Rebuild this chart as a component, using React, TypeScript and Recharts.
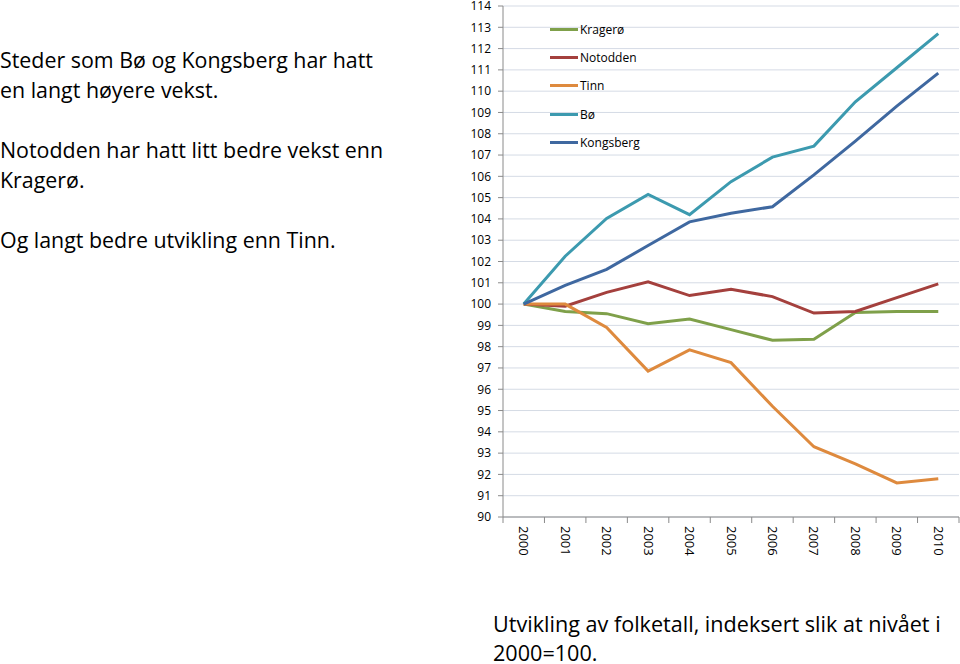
import React from "react";
import { LineChart, Line, XAxis, YAxis, CartesianGrid } from "recharts";

const years = ["2000", "2001", "2002", "2003", "2004", "2005", "2006", "2007", "2008", "2009", "2010"];
const kragero = [100, 99.65, 99.55, 99.08, 99.3, 98.8, 98.3, 98.35, 99.6, 99.65, 99.65];
const notodden = [100, 99.9, 100.55, 101.05, 100.4, 100.7, 100.35, 99.58, 99.65, 100.3, 100.95];
const tinn = [100, 100, 98.9, 96.85, 97.85, 97.25, 95.2, 93.3, 92.5, 91.6, 91.8];
const bo = [100, 102.25, 104.02, 105.15, 104.2, 105.75, 106.9, 107.42, 109.5, 111.1, 112.7];
const kongsberg = [100, 100.88, 101.63, 102.75, 103.86, 104.27, 104.57, 106.07, 107.65, 109.3, 110.85];
const yTicks = [90, 91, 92, 93, 94, 95, 96, 97, 98, 99, 100, 101, 102, 103, 104, 105, 106, 107, 108, 109, 110, 111, 112, 113, 114];

const series = [
  { key: "Kragerø", values: kragero, color: "#7FA04A" },
  { key: "Notodden", values: notodden, color: "#A4403D" },
  { key: "Tinn", values: tinn, color: "#DE8A3E" },
  { key: "Bø", values: bo, color: "#3C9AAF" },
  { key: "Kongsberg", values: kongsberg, color: "#3F68A0" },
];

const data = years.map((y, i) => {
  const row: any = { year: y };
  series.forEach((s) => (row[s.key] = s.values[i]));
  return row;
});

const FONT = "'Open Sans', 'Noto Sans', sans-serif";
const CHART_W = 520;
const Y_W = 63;
const RIGHT = 1;
const HALF_BAND = (CHART_W - Y_W - RIGHT) / years.length / 2;

const XTick = (props: any) => {
  const { x, y, payload, index } = props;
  const last = index === years.length - 1;
  return (
    <g>
      <line x1={x - HALF_BAND} y1={y - 8} x2={x - HALF_BAND} y2={y - 2} stroke="#8a8a8a" />
      {last && <line x1={x + HALF_BAND} y1={y - 8} x2={x + HALF_BAND} y2={y - 2} stroke="#8a8a8a" />}
      <text x={x} y={y} transform={`rotate(90 ${x} ${y})`} dx={1} dy={4.5} textAnchor="start" fontSize={13} fill="#000" fontFamily={FONT}>
        {payload.value}
      </text>
    </g>
  );
};

export default function App() {
  return (
    <div style={{ position: "absolute", left: 0, top: 0, width: 960, height: 664, background: "#fff", fontFamily: FONT, overflow: "hidden" }}>
      <div style={{ position: "absolute", left: 0, top: 45, width: 440, fontSize: 21.4, lineHeight: "30px", color: "#000", whiteSpace: "nowrap" }}>
        <div>Steder som Bø og Kongsberg har hatt</div>
        <div>en langt høyere vekst.</div>
        <div style={{ height: 30 }} />
        <div>Notodden har hatt litt bedre vekst enn</div>
        <div>Kragerø.</div>
        <div style={{ height: 30 }} />
        <div>Og langt bedre utvikling enn Tinn.</div>
      </div>
      <div style={{ position: "absolute", left: 493, top: 611, width: 467, fontSize: 21.6, lineHeight: "26px", color: "#000", whiteSpace: "nowrap" }}>
        <div>Utvikling av folketall, indeksert slik at nivået i</div>
        <div style={{ marginTop: 3 }}>2000=100.</div>
      </div>
      <div style={{ position: "absolute", left: 440, top: 0 }}>
        <LineChart width={CHART_W} height={580} data={data} margin={{ top: 6, right: RIGHT, bottom: 13, left: 0 }}>
          <CartesianGrid vertical={false} stroke="#D5DBE5" strokeWidth={1} />
          <XAxis
            dataKey="year"
            scale="band"
            stroke="#8a8a8a"
            tickLine={false}
            tick={<XTick />}
            interval={0}
            height={50}
          />
          <YAxis
            domain={[90, 114]}
            ticks={yTicks}
            interval={0}
            width={Y_W}
            stroke="#8a8a8a"
            tickSize={5}
            tickMargin={7}
            tick={{ fontSize: 12, fill: "#000", fontFamily: FONT }}
            allowDataOverflow
          />
          {series.map((s) => (
            <Line
              key={s.key}
              type="linear"
              dataKey={s.key}
              stroke={s.color}
              strokeWidth={3}
              dot={false}
              isAnimationActive={false}
            />
          ))}
        </LineChart>
      </div>
      <div style={{ position: "absolute", left: 550, top: 15, fontFamily: FONT, fontSize: 12, color: "#000" }}>
        {series.map((s) => (
          <div key={s.key} style={{ display: "flex", alignItems: "center", height: 28.3 }}>
            <div style={{ width: 28, height: 3, background: s.color, marginRight: 2 }} />
            <span>{s.key}</span>
          </div>
        ))}
      </div>
    </div>
  );
}
